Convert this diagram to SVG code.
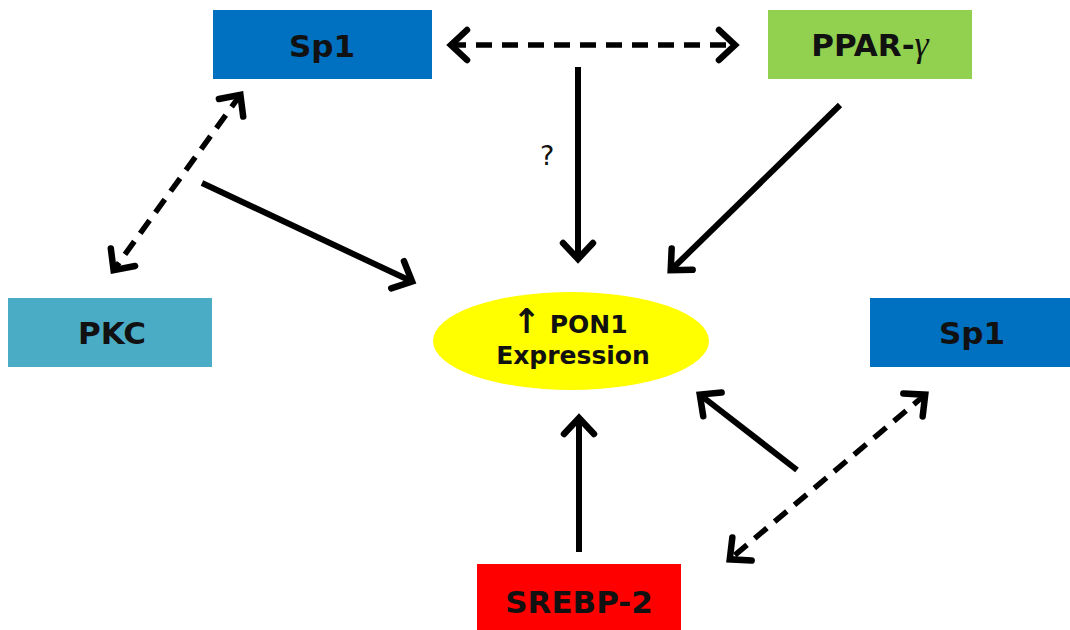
<svg xmlns="http://www.w3.org/2000/svg" width="1070" height="630" viewBox="0 0 1070 630">
  <style>
    .lbl { font-family: "DejaVu Sans", "Liberation Sans", sans-serif; font-weight: bold; fill: #111; text-anchor: middle; }
    .box { font-size: 31px; }
    .ell { font-size: 25px; }
    .up { font-family: "DejaVu Sans", sans-serif; font-weight: bold; font-size: 34px; }
    .q { font-family: "DejaVu Sans", "Liberation Sans", sans-serif; font-size: 27px; fill: #111; }
    .solid { stroke: #000; stroke-width: 6; fill: none; marker-end: url(#head); }
    .dash { stroke: #000; stroke-width: 5.5; fill: none; stroke-dasharray: 16 10; marker-start: url(#head); marker-end: url(#head); }
  </style>
  <defs>
    <marker id="head" markerUnits="userSpaceOnUse" viewBox="-26 -20 32 40" refX="0" refY="0" markerWidth="32" markerHeight="40" orient="auto-start-reverse">
      <path d="M -17,-15 L -1,0 L -17,15" fill="none" stroke="#000" stroke-width="6.5" stroke-linejoin="miter" stroke-linecap="round"/>
    </marker>
  </defs>

  <rect width="1070" height="630" fill="#fff"/>

  <!-- nodes -->
  <g id="sp1-top">
    <rect x="213" y="10" width="219" height="69" fill="#0070C0"/>
    <text class="lbl box" x="322" y="57">Sp1</text>
  </g>
  <g id="ppar-gamma">
    <rect x="768" y="10" width="204" height="69" fill="#92D050"/>
    <text class="lbl box" x="870" y="56">PPAR-<tspan font-family="'Liberation Serif', serif" font-style="italic" font-weight="normal" font-size="36px">γ</tspan></text>
  </g>
  <g id="pkc">
    <rect x="8" y="298" width="204" height="69" fill="#4BACC6"/>
    <text class="lbl box" x="112" y="344">PKC</text>
  </g>
  <g id="pon1">
    <ellipse cx="571" cy="341" rx="138" ry="49" fill="#FFFF00"/>
    <text class="lbl ell" x="570" y="333"><tspan class="up">↑</tspan> PON1</text>
    <text class="lbl ell" x="573" y="364">Expression</text>
  </g>
  <g id="sp1-right">
    <rect x="870" y="298" width="200" height="69" fill="#0070C0"/>
    <text class="lbl box" x="972" y="344">Sp1</text>
  </g>
  <g id="srebp2">
    <rect x="477" y="564" width="204" height="66" fill="#FF0000"/>
    <text class="lbl box" x="579" y="613">SREBP-2</text>
  </g>

  <!-- connectors -->
  <g id="connectors">
    <path class="dash" d="M 450,45 L 736,45"/>
    <path class="solid" d="M 578,67 L 578,260"/>
    <path class="solid" d="M 840,105 L 670,271"/>
    <path class="solid" d="M 202,183 L 413,282"/>
    <path class="dash" d="M 241,94 L 113,271"/>
    <path class="solid" d="M 579,552 L 579,417"/>
    <path class="solid" d="M 797,470 L 699,394"/>
    <path class="dash" d="M 926,394 L 729,560"/>
    <text class="q" x="540" y="165">?</text>
  </g>
</svg>
